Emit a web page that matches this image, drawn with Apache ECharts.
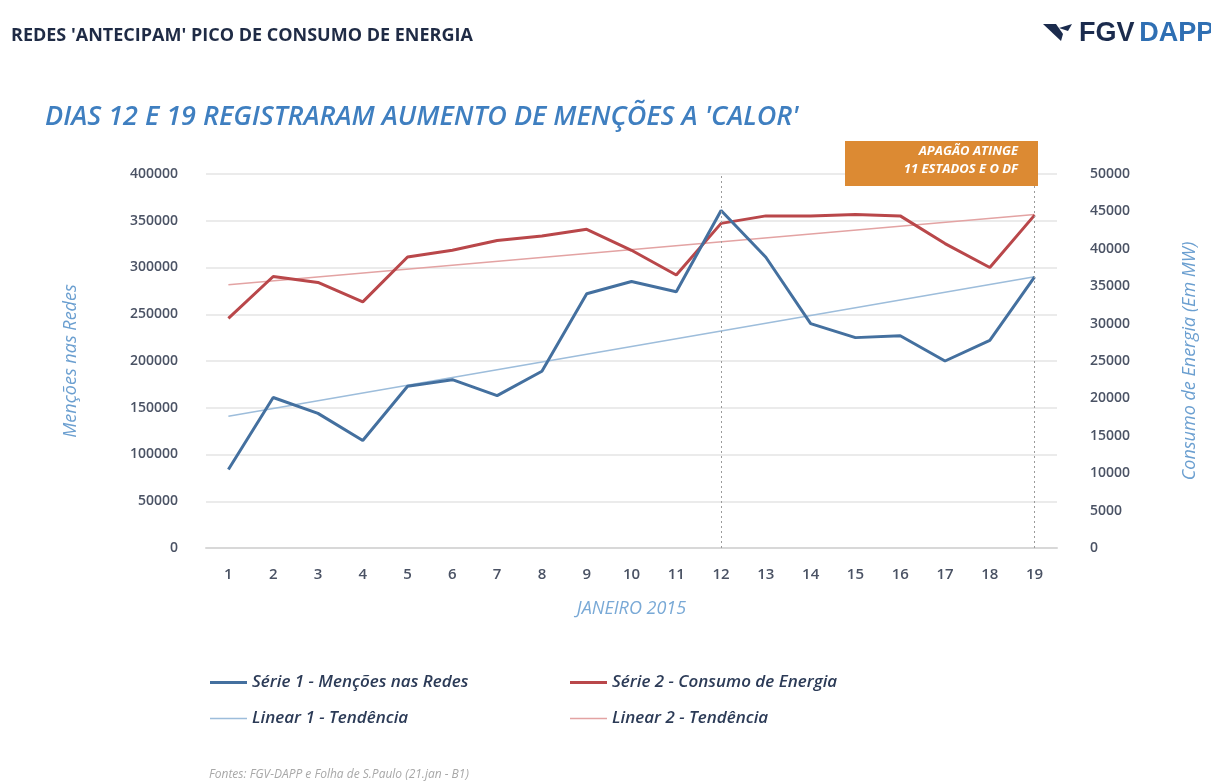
<!DOCTYPE html>
<html>
<head>
<meta charset="utf-8">
<script src="https://cdn.jsdelivr.net/npm/echarts@6/dist/echarts.min.js"></script>
<style>
  html, body { margin: 0; padding: 0; background: #fff; }
  #main { width: 1211px; height: 784px; }
</style>
</head>
<body>
<div id="main"></div>
<script>
// dias de janeiro 2015
var dias = ['1','2','3','4','5','6','7','8','9','10','11','12','13','14','15','16','17','18','19'];
// Série 1 - menções nas redes (eixo esquerdo)
var mencoes = [84000, 161000, 144000, 115000, 173000, 180000, 163000, 189000, 272000, 285000,
               274000, 361000, 311000, 240000, 225000, 227000, 200000, 222000, 290000];
// Série 2 - consumo de energia em MW (eixo direito)
var consumo = [30700, 36300, 35500, 32900, 38900, 39800, 41100, 41700, 42600, 39800,
               36500, 43400, 44400, 44400, 44600, 44400, 40700, 37500, 44500];
// linhas de tendência (extremos)
var tendencia1 = [['1', 141000], ['19', 290000]];
var tendencia2 = [['1', 35200], ['19', 44600]];
// dias marcados
var diasMarcados = ['12', '19'];

var azul = '#44709f', vermelho = '#b9474a';
var azulClaro = '#9dbddb', vermelhoClaro = '#e3a3a3';
var fonte = "'Open Sans', 'Noto Sans', sans-serif";
// ícones da legenda (traço grosso e traço fino)
var iconeGrosso = 'path://M0,0 L37,0 L37,3 L0,3 Z';
var iconeFino = 'path://M0,0 L37,0 L37,1.5 L0,1.5 Z';

var myChart = echarts.init(document.getElementById('main'));

var estiloLegenda = { fontSize: 17, fontStyle: 'italic', fontWeight: 600, color: '#2c3b57', fontFamily: fonte };

var option = {
    backgroundColor: '#fff',
    textStyle: { fontFamily: fonte },
    title: [
        {
            text: "REDES 'ANTECIPAM' PICO DE CONSUMO DE ENERGIA",
            left: 6, top: 22,
            textStyle: { fontSize: 18, fontWeight: 'bold', color: '#1f2b45', fontFamily: fonte }
        },
        {
            text: '{a|FGV} {b|DAPP}',
            left: 1074, top: 15,
            textStyle: {
                rich: {
                    a: { fontSize: 27, fontWeight: 'bold', color: '#1b2b4d', fontFamily: "'Liberation Sans', Arial, sans-serif" },
                    b: { fontSize: 27, fontWeight: 'bold', color: '#2f6fb3', fontFamily: "'Liberation Sans', Arial, sans-serif" }
                }
            }
        },
        {
            text: "DIAS 12 E 19 REGISTRARAM AUMENTO DE MENÇÕES A 'CALOR'",
            left: 40, top: 99,
            textStyle: { fontSize: 27, fontStyle: 'italic', fontWeight: 600, color: '#3f7fc0', fontFamily: fonte }
        },
        {
            text: 'Fontes: FGV-DAPP e Folha de S.Paulo (21.jan - B1)',
            left: 204, top: 764,
            textStyle: { fontSize: 12, fontStyle: 'italic', fontWeight: 'normal', color: '#a8a8a8', fontFamily: fonte }
        }
    ],
    graphic: [
        {
            type: 'polygon',
            shape: { points: [[1043, 24], [1056, 24], [1063, 34], [1061, 41]] },
            style: { fill: '#1b2b4d' }
        },
        {
            type: 'polygon',
            shape: { points: [[1059, 28], [1072, 24], [1068, 31]] },
            style: { fill: '#1b2b4d' }
        },
        {
            type: 'rect',
            z: 100,
            shape: { x: 845, y: 141, width: 193, height: 45 },
            style: { fill: '#dc8a33' }
        },
        {
            type: 'text',
            z: 101,
            x: 1018, y: 142,
            style: {
                text: 'APAGÃO ATINGE\n11 ESTADOS E O DF',
                align: 'right',
                fill: '#fff',
                font: 'italic bold 13px ' + fonte,
                lineHeight: 18
            }
        }
    ],
    legend: [
        {
            orient: 'vertical',
            left: 205, top: 669,
            itemWidth: 37, itemHeight: 14, itemGap: 19,
            data: [
                { name: 'Série 1 - Menções nas Redes', icon: iconeGrosso },
                { name: 'Linear 1 - Tendência', icon: iconeFino }
            ],
            textStyle: estiloLegenda
        },
        {
            orient: 'vertical',
            left: 565, top: 669,
            itemWidth: 37, itemHeight: 14, itemGap: 19,
            data: [
                { name: 'Série 2 - Consumo de Energia', icon: iconeGrosso },
                { name: 'Linear 2 - Tendência', icon: iconeFino }
            ],
            textStyle: estiloLegenda
        }
    ],
    grid: { left: 206, right: 154, top: 174, bottom: 236 },
    xAxis: {
        type: 'category',
        data: dias,
        boundaryGap: true,
        name: 'JANEIRO 2015',
        nameLocation: 'middle',
        nameGap: 52,
        nameTextStyle: { fontSize: 18, fontStyle: 'italic', color: '#79a9d6' },
        axisLine: { lineStyle: { color: '#d8d8d8', width: 2 } },
        axisTick: { show: false },
        axisLabel: { margin: 19, fontSize: 15, fontWeight: 600, color: '#4a5264' }
    },
    yAxis: [
        {
            type: 'value',
            min: 0, max: 400000, interval: 50000,
            name: 'Menções nas Redes',
            nameLocation: 'middle',
            nameGap: 126,
            nameRotate: 90,
            nameTextStyle: { fontSize: 18, fontStyle: 'italic', color: '#6b9fd0' },
            axisLine: { show: false },
            axisTick: { show: false },
            axisLabel: { margin: 28, fontSize: 14, fontWeight: 600, color: '#4a5264',
                formatter: function (v) { return String(v); } },
            splitLine: { lineStyle: { color: '#e4e4e4', width: 1.5 } }
        },
        {
            type: 'value',
            min: 0, max: 50000, interval: 5000,
            name: 'Consumo de Energia (Em MW)',
            nameLocation: 'middle',
            nameGap: 124,
            nameRotate: 90,
            nameTextStyle: { fontSize: 18, fontStyle: 'italic', color: '#6b9fd0' },
            axisLine: { show: false },
            axisTick: { show: false },
            axisLabel: { margin: 33, fontSize: 14, fontWeight: 600, color: '#4a5264',
                formatter: function (v) { return String(v); } },
            splitLine: { show: false }
        }
    ],
    series: [
        {
            name: 'Série 1 - Menções nas Redes',
            type: 'line',
            yAxisIndex: 0,
            data: mencoes,
            symbol: 'none',
            z: 4,
            lineStyle: { color: azul, width: 3 },
            itemStyle: { color: azul },
            markLine: {
                silent: true,
                symbol: 'none',
                label: { show: false },
                lineStyle: { color: '#9a9a9a', type: [2, 3], width: 1 },
                data: diasMarcados.map(function (d) { return { xAxis: d }; })
            }
        },
        {
            name: 'Série 2 - Consumo de Energia',
            type: 'line',
            yAxisIndex: 1,
            data: consumo,
            symbol: 'none',
            z: 3,
            lineStyle: { color: vermelho, width: 3 },
            itemStyle: { color: vermelho }
        },
        {
            name: 'Linear 1 - Tendência',
            type: 'line',
            yAxisIndex: 0,
            data: tendencia1,
            symbol: 'none',
            z: 2,
            lineStyle: { color: azulClaro, width: 1.5 },
            itemStyle: { color: azulClaro }
        },
        {
            name: 'Linear 2 - Tendência',
            type: 'line',
            yAxisIndex: 1,
            data: tendencia2,
            symbol: 'none',
            z: 2,
            lineStyle: { color: vermelhoClaro, width: 1.5 },
            itemStyle: { color: vermelhoClaro }
        }
    ]
};

myChart.setOption(option);
</script>
</body>
</html>
